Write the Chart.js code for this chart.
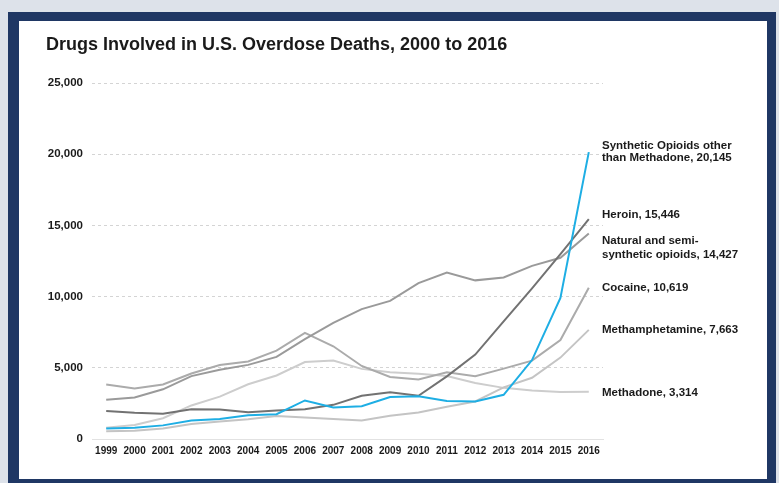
<!DOCTYPE html>
<html>
<head>
<meta charset="utf-8">
<script src="https://cdn.jsdelivr.net/npm/chart.js@4"></script>
<style>
  html, body { margin: 0; padding: 0; }
  body {
    width: 779px; height: 483px; overflow: hidden; position: relative;
    background: #dde2ea;
    font-family: "Liberation Sans", Arial, sans-serif;
  }
  #frame { position: absolute; left: 8px; top: 12px; width: 768px; height: 480px; background: #1f3764; }
  #panel { position: absolute; left: 19px; top: 21px; width: 748px; height: 458px; background: #fff; }
  #title {
    position: absolute; left: 27px; top: 14px; margin: 0;
    font-size: 18px; line-height: 18px; font-weight: bold; color: #1a1a1a; white-space: nowrap;
  }
  #chartBox { position: absolute; left: 0; top: 0; width: 748px; height: 458px; }
</style>
</head>
<body>
<div id="frame"></div>
<div id="panel">
  <div id="chartBox"><canvas id="odChart"></canvas></div>
  <h1 id="title">Drugs Involved in U.S. Overdose Deaths, 2000 to 2016</h1>
</div>
<script>
"use strict";

// Data
const years = ['1999', '2000', '2001', '2002', '2003', '2004', '2005', '2006', '2007',
               '2008', '2009', '2010', '2011', '2012', '2013', '2014', '2015', '2016'];

const synthetic = [730, 782, 957, 1295, 1400, 1664, 1742, 2707, 2213, 2306, 2946, 3007, 2666, 2628, 3105, 5544, 9900, 20145];
const heroin = [1960, 1842, 1779, 2089, 2080, 1878, 2009, 2088, 2399, 3041, 3278, 3036, 4397, 5925, 8257, 10574, 12989, 15446];
const natural = [2749, 2917, 3491, 4416, 4867, 5205, 5763, 7017, 8150, 9118, 9701, 10943, 11693, 11140, 11346, 12159, 12727, 14427];
const cocaine = [3822, 3544, 3833, 4599, 5199, 5443, 6208, 7448, 6512, 5129, 4350, 4183, 4681, 4404, 4944, 5500, 6950, 10619];
const meth = [547, 578, 742, 1050, 1231, 1385, 1617, 1505, 1413, 1302, 1632, 1854, 2266, 2635, 3627, 4298, 5716, 7663];
const methadone = [784, 988, 1456, 2358, 2972, 3845, 4460, 5406, 5518, 4924, 4696, 4577, 4418, 3932, 3591, 3400, 3301, 3314];

const seriesNames = [
    ['Synthetic Opioids other', 'than Methadone'],
    ['Heroin'],
    ['Natural and semi-', 'synthetic opioids'],
    ['Cocaine'],
    ['Methamphetamine'],
    ['Methadone']
];

const FONT = '"Liberation Sans", Arial, sans-serif';

// pixel nudges for the end labels (one per line)
const labelNudge = [[-6, 6], [-4], [7, 21], [0], [0], [1]];

const endLabels = {
    id: 'endLabels',
    afterDatasetsDraw(chart) {
        const { ctx, chartArea } = chart;
        const y = chart.scales.y;
        ctx.save();
        ctx.font = 'bold 11.5px ' + FONT;
        ctx.fillStyle = '#1a1a1a';
        ctx.textBaseline = 'middle';
        ctx.textAlign = 'left';
        chart.data.datasets.forEach((ds, i) => {
            const last = ds.data[ds.data.length - 1];
            const yPix = y.getPixelForValue(last);
            const lines = seriesNames[i].slice();
            lines[lines.length - 1] += ', ' + last.toLocaleString('en-US');
            lines.forEach((t, j) => ctx.fillText(t, chartArea.right - 1, yPix + labelNudge[i][j]));
        });
        ctx.restore();
    }
};

const mk = (name, data, color) => ({
    label: name.join(' '),
    data: data,
    borderColor: color,
    backgroundColor: color,
    borderWidth: 2,
    pointRadius: 0,
    tension: 0,
    fill: false
});

const ctx = document.getElementById('odChart').getContext('2d');
new Chart(ctx, {
    type: 'line',
    data: {
        labels: years,
        datasets: [
            mk(seriesNames[0], synthetic, '#1eaee4'),
            mk(seriesNames[1], heroin, '#727272'),
            mk(seriesNames[2], natural, '#9a9a9a'),
            mk(seriesNames[3], cocaine, '#ababab'),
            mk(seriesNames[4], meth, '#c4c4c4'),
            mk(seriesNames[5], methadone, '#cdcdcd')
        ]
    },
    options: {
        responsive: true,
        maintainAspectRatio: false,
        animation: false,
        layout: { padding: { top: 62, right: 164, bottom: 0, left: 0 } },
        plugins: {
            legend: { display: false },
            tooltip: { enabled: false }
        },
        scales: {
            x: {
                offset: true,
                afterFit: (s) => { s.height = 40; },
                grid: { display: false, drawTicks: false },
                border: { display: true, color: '#e2e2e2', width: 1 },
                ticks: {
                    padding: 6,
                    maxRotation: 0,
                    autoSkip: false,
                    color: '#1a1a1a',
                    font: { family: FONT, size: 10, weight: 'bold' }
                }
            },
            y: {
                min: 0,
                max: 25000,
                afterFit: (s) => { s.width = 73; },
                grid: {
                    drawTicks: false,
                    color: (c) => c.tick && c.tick.value === 0 ? 'rgba(0,0,0,0)' : '#d4d4d4',
                    lineWidth: 1
                },
                border: { display: false, dash: [3, 3] },
                ticks: {
                    stepSize: 5000,
                    padding: 9,
                    color: '#1a1a1a',
                    font: { family: FONT, size: 11.5, weight: 'bold' },
                    callback: (v) => v.toLocaleString('en-US')
                }
            }
        }
    },
    plugins: [endLabels]
});
</script>
</body>
</html>
